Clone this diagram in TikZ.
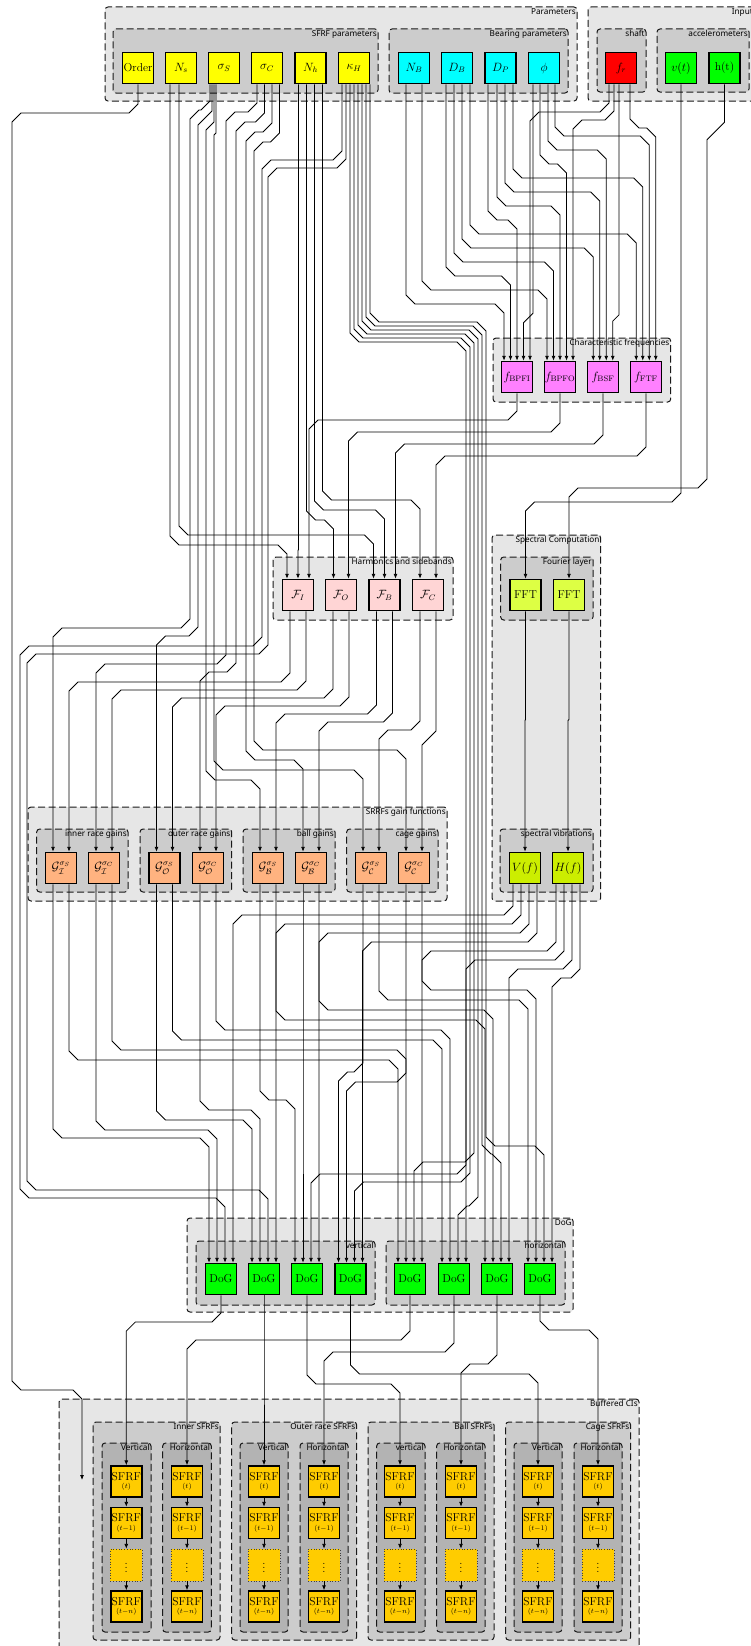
\documentclass[tikz,border=0pt]{standalone}
\usepackage{amsmath}
\usepackage{fontspec}
\newfontfamily\lblfont{Noto Sans}
\usetikzlibrary{calc,fit,arrows.meta}
\pgfdeclarelayer{bg}
\pgfsetlayers{bg,main}
\definecolor{cyel}{HTML}{FFFF00}
\definecolor{ccyan}{HTML}{00FFFF}
\definecolor{cred}{HTML}{FF0000}
\definecolor{cgreen}{HTML}{00FF00}
\definecolor{cmag}{HTML}{FF80FF}
\definecolor{cpink}{HTML}{FFD5D5}
\definecolor{cfft}{HTML}{DDFF44}
\definecolor{cspec}{HTML}{CCEE00}
\definecolor{cgain}{HTML}{FFB380}
\definecolor{csfrf}{HTML}{FFCC00}
\definecolor{gA}{HTML}{E6E6E6}
\definecolor{gB}{HTML}{CCCCCC}
\definecolor{gC}{HTML}{B3B3B3}
\tikzset{
  blk/.style={draw=black, line width=1.5pt, minimum width=31pt, minimum height=31pt, inner sep=0pt, font=\fontsize{11.5}{13}\selectfont},
  dotsn/.style={draw=black!75, dotted, line width=0.7pt, fill=csfrf, minimum width=31.8pt, minimum height=31.8pt, inner sep=0pt, font=\fontsize{11.5}{13}\selectfont},
  grpA/.style={draw=black!90, dash pattern=on 7pt off 3.5pt, line width=1pt, rounded corners=3pt, fill=gA, inner sep=0pt},
  grpB/.style={grpA, fill=gB},
  grpC/.style={grpA, fill=gC},
  lbl/.style={anchor=north east, inner sep=1.6pt, font=\lblfont\fontsize{8.2}{9.8}\selectfont},
  wire/.style={draw=black, line width=0.75pt, -{Latex[length=4.8pt,width=3.8pt]}},
  jog/.style={to path={
    let \p1=(\tikztostart), \p2=(\tikztotarget),
        \n1={min(9,abs(\x2-\x1)/2)}, \n2={(\x2>\x1)-(\x1>\x2)} in
    -- (\x1,{(-#1+\n1)*1pt})
    -- ({\x1+(\n2)*(\n1)*1pt},{-#1*1pt})
    -- ({\x2-(\n2)*(\n1)*1pt},{-#1*1pt})
    -- (\x2,{(-#1-\n1)*1pt})
    -- (\tikztotarget)}}
}
\newcommand\W[5]{\draw[wire] ([xshift=#2pt]#1.south) to[jog=#5] ([xshift=#4pt]#3.north);}
\newcommand\WV[7]{\draw[wire] ([xshift=#2pt]#1.south) to[jog=#3] (#4,{(#3+#5)/2}) to[jog=#5] ([xshift=#7pt]#6.north);}
\newcommand\grp[7]{\node[#2, fit={(#3,#4) (#5,#6)}] (#1) {}; \node[lbl] (#1L) at (#1.north east) {#7};}
\begin{document}
\begin{tikzpicture}[x=1pt,y=-1pt]
\useasboundingbox (0,0) rectangle (751,1646);
\begin{pgfonlayer}{bg}
\fill[white] (0,0) rectangle (751,1646);
\grp{gPar}{grpA}{105}{7}{577}{101}{Parameters}
\grp{gSP}{grpB}{113}{29}{378}{93}{SFRF parameters}
\grp{gBP}{grpB}{389}{29}{568}{93}{Bearing parameters}
\grp{gIn}{grpA}{588}{7}{758}{101}{Inputs}
\grp{gSh}{grpB}{597}{29}{646}{92}{shaft}
\grp{gAc}{grpB}{657}{29}{749}{92}{accelerometers}
\grp{gCF}{grpA}{493}{338}{670.7}{402}{Characteristic frequencies}
\grp{gHS}{grpA}{273}{557}{453}{620}{Harmonics and sidebands}
\grp{gSC}{grpA}{492}{535}{600.7}{901}{Spectral Computation}
\grp{gFL}{grpB}{500.7}{557}{593}{620}{Fourier layer}
\grp{gSV}{grpB}{500}{829}{593}{892}{spectral vibrations}
\grp{gGF}{grpA}{28}{807}{447}{901}{SRRFs gain functions}
\grp{gIR}{grpB}{36.7}{829}{128}{892}{inner race gains}
\grp{gOR}{grpB}{140}{829}{231.7}{892}{outer race gains}
\grp{gBG}{grpB}{243}{829}{335}{892}{ball gains}
\grp{gCG}{grpB}{346.7}{829}{438}{892}{cage gains}
\grp{gDoG}{grpA}{187}{1218}{573}{1312}{DoG}
\grp{gDV}{grpB}{196}{1241}{375}{1305}{vertical}
\grp{gDH}{grpB}{386}{1241}{565}{1305}{horizontal}
\grp{gBC}{grpA}{59}{1399}{639}{1670}{Buffered CIs}
\grp{gIS}{grpB}{93}{1422}{220}{1640}{Inner SFRFs}
\grp{gISV}{grpC}{102}{1443}{151}{1632}{Vertical}
\grp{gISH}{grpC}{162.7}{1443}{211.3}{1632}{Horizontal}
\grp{gOS}{grpB}{231.7}{1422}{356.7}{1640}{Outer race SFRFs}
\grp{gOSV}{grpC}{240}{1443}{288}{1632}{Vertical}
\grp{gOSH}{grpC}{300}{1443}{348}{1632}{Horizontal}
\grp{gBS}{grpB}{368}{1422}{494}{1640}{Ball SFRFs}
\grp{gBSV}{grpC}{376.7}{1443}{425}{1632}{vertical}
\grp{gBSH}{grpC}{436.7}{1443}{485}{1632}{Horizontal}
\grp{gCS}{grpB}{505.7}{1422}{630.7}{1640}{Cage SFRFs}
\grp{gCSV}{grpC}{514}{1443}{562}{1632}{Vertical}
\grp{gCSH}{grpC}{574}{1443}{622}{1632}{Horizontal}
\end{pgfonlayer}
% parameters
\node[blk,fill=cyel] (order) at (138,68) {Order};
\node[blk,fill=cyel] (ns) at (181,68) {$N_s$};
\node[blk,fill=cyel] (sigs) at (224,68) {$\sigma_S$};
\node[blk,fill=cyel] (sigc) at (267,68) {$\sigma_C$};
\node[blk,fill=cyel] (nh) at (310.5,68) {$N_h$};
\node[blk,fill=cyel] (kh) at (354,68) {$\kappa_H$};
\node[blk,fill=ccyan] (nb) at (414,68) {$N_B$};
\node[blk,fill=ccyan] (db) at (457,68) {$D_B$};
\node[blk,fill=ccyan] (dp) at (500.5,68) {$D_P$};
\node[blk,fill=ccyan] (phi) at (544,68) {$\phi$};
\node[blk,fill=cred] (fr) at (621,68) {$f_r$};
\node[blk,fill=cgreen] (vt) at (681,68) {$v(t)$};
\node[blk,fill=cgreen] (ht) at (724.5,68) {h(t)};
% characteristic frequencies
\node[blk,fill=cmag] (bpfi) at (517,377) {$f_{\mathrm{BPFI}}$};
\node[blk,fill=cmag] (bpfo) at (560,377) {$f_{\mathrm{BPFO}}$};
\node[blk,fill=cmag] (bsf) at (603,377) {$f_{\mathrm{BSF}}$};
\node[blk,fill=cmag] (ftf) at (646,377) {$f_{\mathrm{FTF}}$};
% harmonics
\node[blk,fill=cpink] (fi) at (298,595) {$\mathcal{F}_I$};
\node[blk,fill=cpink] (fo) at (341,595) {$\mathcal{F}_O$};
\node[blk,fill=cpink] (fb) at (384.5,595) {$\mathcal{F}_B$};
\node[blk,fill=cpink] (fc) at (428,595) {$\mathcal{F}_C$};
% spectral
\node[blk,fill=cfft] (fft1) at (525.5,595) {FFT};
\node[blk,fill=cfft] (fft2) at (569,595) {FFT};
\node[blk,fill=cspec] (vf) at (525,868) {$V(f)$};
\node[blk,fill=cspec] (hf) at (568,868) {$H(f)$};
% gains
\node[blk,fill=cgain] (gis) at (61,868) {$\mathcal{G}_{\mathcal{I}}^{\sigma_S}$};
\node[blk,fill=cgain] (gic) at (104,868) {$\mathcal{G}_{\mathcal{I}}^{\sigma_C}$};
\node[blk,fill=cgain] (gos) at (164.5,868) {$\mathcal{G}_{\mathcal{O}}^{\sigma_S}$};
\node[blk,fill=cgain] (goc) at (208,868) {$\mathcal{G}_{\mathcal{O}}^{\sigma_C}$};
\node[blk,fill=cgain] (gbs) at (268,868) {$\mathcal{G}_{\mathcal{B}}^{\sigma_S}$};
\node[blk,fill=cgain] (gbc) at (311,868) {$\mathcal{G}_{\mathcal{B}}^{\sigma_C}$};
\node[blk,fill=cgain] (gcs) at (371,868) {$\mathcal{G}_{\mathcal{C}}^{\sigma_S}$};
\node[blk,fill=cgain] (gcc) at (414,868) {$\mathcal{G}_{\mathcal{C}}^{\sigma_C}$};
% DoG
\node[blk,fill=cgreen] (dv1) at (221,1279) {DoG};
\node[blk,fill=cgreen] (dv2) at (264,1279) {DoG};
\node[blk,fill=cgreen] (dv3) at (307,1279) {DoG};
\node[blk,fill=cgreen] (dv4) at (350.5,1279) {DoG};
\node[blk,fill=cgreen] (dh1) at (410,1279) {DoG};
\node[blk,fill=cgreen] (dh2) at (454,1279) {DoG};
\node[blk,fill=cgreen] (dh3) at (497,1279) {DoG};
\node[blk,fill=cgreen] (dh4) at (540,1279) {DoG};
% SFRF buffers
\foreach \i/\xx in {1/126.3,2/187,3/264,4/324,5/400,6/461,7/538,8/598}{
  \node[blk,fill=csfrf,align=center] (s\i-a) at (\xx,1481.5) {SFRF\\[-4.5pt]{\fontsize{7}{8}\selectfont$(t)$}};
  \node[blk,fill=csfrf,align=center] (s\i-b) at (\xx,1523) {SFRF\\[-4.5pt]{\fontsize{7}{8}\selectfont$(t{-}1)$}};
  \node[dotsn] (s\i-c) at (\xx,1565) {$\vdots$};
  \node[blk,fill=csfrf,align=center] (s\i-d) at (\xx,1606.5) {SFRF\\[-4.5pt]{\fontsize{7}{8}\selectfont$(t{-}n)$}};
  \draw[wire] (s\i-a) -- (s\i-b);
  \draw[wire] (s\i-b) -- (s\i-c);
  \draw[wire] (s\i-c) -- (s\i-d);
}
% Order
\coordinate (ordend) at (82,1480);
\draw[wire] (order.south) to[jog=113] (12,700) to[jog=1390] (ordend);
% Ns, Nh -> harmonics
\W{ns}{-11}{fi}{-11}{545}
\W{ns}{-2}{fb}{-11}{535}
\W{nh}{-12}{fi}{0}{550}
\W{nh}{-4}{fo}{-7.5}{520}
\W{nh}{4}{fb}{0}{510}
\W{nh}{12}{fc}{-8}{500}
% kappa_H -> DoG (two around the left, six down the right corridor)
\draw[wire] ([xshift=-12pt]kh.south) to[jog=160] (262,400) to[jog=646] (20,900) to[jog=1198] ([xshift=4pt]dv1.north);
\draw[wire] ([xshift=-8pt]kh.south) to[jog=168] (268,400) to[jog=654] (27,900) to[jog=1190] ([xshift=4pt]dv2.north);
\WV{kh}{-4}{342}{466}{1174}{dv3}{4}
\WV{kh}{0}{338}{470}{1182}{dv4}{4}
\WV{kh}{4}{334}{474}{1162}{dh1}{4}
\WV{kh}{8}{330}{478}{1206}{dh2}{4}
\WV{kh}{12}{326}{482}{1154}{dh3}{4}
\WV{kh}{16}{322}{486}{1146}{dh4}{4}
% sigma -> gains
\WV{sigs}{-14}{110}{190}{628}{gis}{-8}
\WV{sigs}{-12}{118}{198}{636}{gos}{-8}
\WV{sigs}{-10}{126}{206}{780}{gbs}{-8}
\WV{sigs}{-8}{134}{214}{770}{gcs}{-8}
\WV{sigc}{-10}{112}{226}{664}{gic}{-8}
\WV{sigc}{-2.5}{122}{236}{672}{goc}{-8}
\WV{sigc}{5}{132}{246}{760}{gbc}{-8}
\WV{sigc}{12.5}{142}{254}{750}{gcc}{-8}
% harmonics -> gains
\W{fi}{-8}{gis}{8}{682}
\W{fi}{8}{gic}{8}{690}
\W{fo}{-8}{gos}{8}{698}
\W{fo}{8}{goc}{8}{706}
\W{fb}{-8}{gbs}{8}{714}
\W{fb}{8}{gbc}{8}{722}
\W{fc}{-8}{gcs}{8}{730}
\W{fc}{8}{gcc}{8}{738}
% bearing parameters -> characteristic frequencies
\W{fr}{-12}{bpfi}{13}{112}
\W{fr}{-7}{bpfo}{13}{120}
\W{fr}{9}{ftf}{9.75}{128}
\W{phi}{11}{ftf}{3.25}{136}
\W{phi}{4}{bsf}{3.25}{150}
\W{phi}{-4}{bpfo}{6.5}{164}
\W{dp}{12.5}{ftf}{-3.25}{178}
\W{dp}{4.5}{bsf}{-3.25}{192}
\W{dp}{-3.5}{bpfo}{0}{206}
\W{dp}{-12.5}{bpfi}{0}{220}
\W{db}{13}{ftf}{-9.75}{234}
\W{db}{5}{bsf}{-9.75}{248}
\W{db}{-3}{bpfo}{-6.5}{262}
\W{db}{-11}{bpfi}{-6.5}{276}
\W{nb}{8}{bpfo}{-13}{290}
\W{nb}{-8}{bpfi}{-13}{304}
\W{phi}{-11}{bpfi}{6.5}{318}
\W{fr}{-2}{bsf}{9.75}{318}
% characteristic -> harmonics
\W{bpfi}{0}{fi}{11}{420}
\W{bpfo}{0}{fo}{7.5}{432}
\W{bsf}{0}{fb}{11}{444}
\W{ftf}{0}{fc}{8}{456}
% inputs -> FFT -> spectra
\W{vt}{0}{fft1}{0}{502}
\WV{ht}{0}{131}{707}{488}{fft2}{0}
\W{fft1}{0}{vf}{0}{720}
\W{fft2}{0}{hf}{0}{720}
% spectra -> DoG
\W{vf}{-12}{dv1}{12}{915}
\W{vf}{-4}{dv2}{12}{924}
\W{vf}{4}{dv3}{12}{933}
\W{vf}{12}{dv4}{12}{942}
\W{hf}{-12}{dh1}{12}{951}
\W{hf}{-4}{dh2}{12}{960}
\W{hf}{4}{dh3}{12}{969}
\W{hf}{12}{dh4}{12}{978}
% gains -> DoG
\W{gcc}{8}{dh4}{-4}{990}
\W{gcs}{8}{dh4}{-12}{1000}
\W{gbc}{8}{dh3}{-4}{1010}
\W{gbs}{8}{dh3}{-12}{1020}
\W{goc}{8}{dh2}{-4}{1030}
\W{gos}{8}{dh2}{-12}{1040}
\W{gic}{8}{dh1}{-4}{1050}
\W{gis}{8}{dh1}{-12}{1060}
\W{gcs}{-8}{dv4}{-12}{1072}
\W{gcc}{-8}{dv4}{-4}{1082}
\W{gbc}{-8}{dv3}{-4}{1092}
\W{gbs}{-8}{dv3}{-12}{1100}
\W{goc}{-8}{dv2}{-4}{1110}
\W{gos}{-8}{dv2}{-12}{1120}
\W{gic}{-8}{dv1}{-4}{1130}
\W{gis}{-8}{dv1}{-12}{1138}
% DoG -> buffers
\W{dv1}{0}{s1-a}{0}{1322}
\W{dh4}{0}{s8-a}{0}{1330}
\W{dh1}{0}{s2-a}{0}{1340}
\W{dv2}{0}{s3-a}{0}{1350}
\W{dh2}{0}{s4-a}{0}{1352}
\W{dh3}{0}{s6-a}{0}{1364}
\W{dv4}{0}{s7-a}{0}{1374}
\W{dv3}{0}{s5-a}{0}{1384}
\end{tikzpicture}
\end{document}
